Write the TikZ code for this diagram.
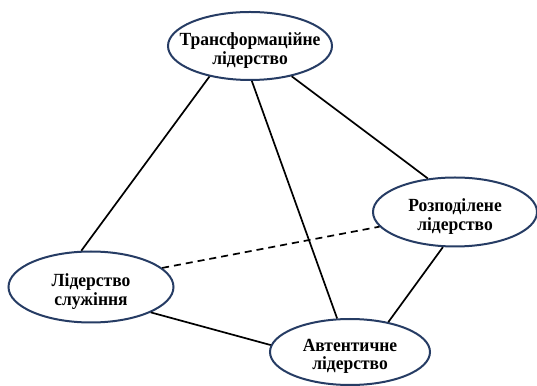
\documentclass[tikz,border=0pt]{standalone}
\usepackage{fontspec}
\setmainfont{Liberation Serif}
\usetikzlibrary{shapes.geometric}
\definecolor{navy}{RGB}{38,60,100}
\tikzset{
  lead/.style={ellipse, draw=navy, line width=2pt, fill=white, inner sep=0pt,
    minimum width=164pt, minimum height=68pt},
  lab/.style={align=center, inner sep=0pt, yshift=-4.5pt, yscale=1.06,
    font=\fontsize{17.5}{17.5}\selectfont\bfseries},
  link/.style={line width=1.7pt, black},
}
\begin{document}
\begin{tikzpicture}[x=1pt,y=1pt]
\useasboundingbox (0,0) rectangle (537,385);
\node[lead, label={[lab]center:{Трансформаційне\\лідерство}}] (tr) at (250,339) {};
\node[lead, minimum height=69pt, label={[lab]center:{Розподілене\\лідерство}}] (ro) at (455,173) {};
\node[lead, minimum width=165pt, minimum height=71pt, label={[lab]center:{Лідерство\\служіння}}] (sl) at (91,98) {};
\node[lead, minimum width=160pt, minimum height=66pt, label={[lab]center:{Автентичне\\лідерство}}] (av) at (350,33) {};
\draw[link] (tr.217) -- (sl.105);
\draw[link] (tr.273) -- (av.111);
\draw[link] (tr.324) -- (ro.129);
\draw[link, dashed, dash pattern=on 7pt off 5pt] (sl.15) -- (ro.191);
\draw[link] (sl.337) -- (av.175);
\draw[link] (ro.251) -- (av.38);
\end{tikzpicture}
\end{document}
